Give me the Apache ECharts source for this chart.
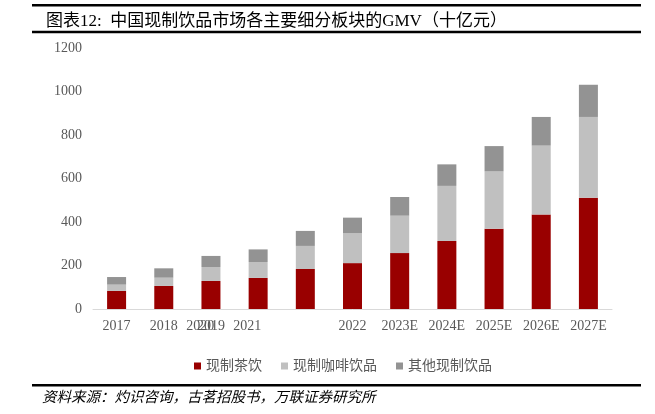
<!DOCTYPE html>
<html>
<head>
<meta charset="utf-8">
<script src="https://cdn.jsdelivr.net/npm/echarts@6/dist/echarts.min.js"></script>
<style>html,body{margin:0;padding:0;background:#fff}#c{width:655px;height:414px}</style>
</head>
<body>
<div id="c"></div>
<script>
var categories = ["2017","2018","2019","2020","2021","2022","2023E","2024E","2025E","2026E","2027E"];
var teaValues = [83,106,129,143,184,211,257,313,369,435,512];
var coffeeValues = [29,38,64,73,106,137,172,253,265,316,371];
var otherValues = [35,43,51,58,69,72,86,99,115,132,148];
var yTicks = [0,200,400,600,800,1000,1200];
var seriesNames = ["现制茶饮","现制咖啡饮品","其他现制饮品"];
// labels that appear shifted left in the original picture
var shiftedLabels = {"2020": true, "2021": true};

var serif = '"Liberation Serif","Noto Sans CJK SC",serif';
var chart = echarts.init(document.getElementById('c'), null, {renderer:'canvas'});
chart.setOption({
  backgroundColor:'#fff',
  animation:false,
  title:{
    text:'图表12:  中国现制饮品市场各主要细分板块的GMV（十亿元）',
    left:41, top:8,
    textStyle:{fontFamily:serif, fontSize:17, fontWeight:'normal', color:'#000'}
  },
  graphic:[
    {type:'rect', shape:{x:32,y:4,width:609,height:2.5}, style:{fill:'#000'}},
    {type:'rect', shape:{x:32,y:30.8,width:609,height:2.5}, style:{fill:'#000'}},
    {type:'rect', shape:{x:32,y:384,width:609,height:2.5}, style:{fill:'#000'}},
    {type:'text', left:42, top:391, style:{text:'资料来源：灼识咨询，古茗招股书，万联证券研究所', font:'italic 14.5px "Liberation Serif","Noto Sans CJK SC",serif', fill:'#000'}}
  ],
  legend:{
    data:seriesNames, top:354, left:189,
    itemWidth:7, itemHeight:7, itemGap:19,
    icon:'rect',
    textStyle:{fontFamily:serif, fontSize:14, color:'#595959'}
  },
  grid:{left:93, right:43, top:48, bottom:105},
  xAxis:{
    type:'category', data:categories,
    axisLine:{lineStyle:{color:'#d9d9d9', width:1}},
    axisTick:{show:false},
    axisLabel:{
      interval:0, margin:10, color:'#595959', fontFamily:serif, fontSize:14,
      formatter:function(v){ return shiftedLabels[v] ? '{s|'+v+'}' : v; },
      rich:{s:{padding:[0,116,0,0], color:'#595959', fontFamily:serif, fontSize:14}}
    }
  },
  yAxis:{
    type:'value', min:yTicks[0], max:yTicks[yTicks.length-1], interval:200,
    axisLine:{show:false}, axisTick:{show:false}, splitLine:{show:false},
    axisLabel:{margin:11, color:'#595959', fontFamily:serif, fontSize:14,
      formatter:function(v){ return String(v); }}
  },
  series:[
    {name:seriesNames[0], type:'bar', stack:'a', data:teaValues, barWidth:19, itemStyle:{color:'#990000'}},
    {name:seriesNames[1], type:'bar', stack:'a', data:coffeeValues, barWidth:19, itemStyle:{color:'#c0c0c0'}},
    {name:seriesNames[2], type:'bar', stack:'a', data:otherValues, barWidth:19, itemStyle:{color:'#939393'}}
  ]
});
</script>
</body>
</html>
